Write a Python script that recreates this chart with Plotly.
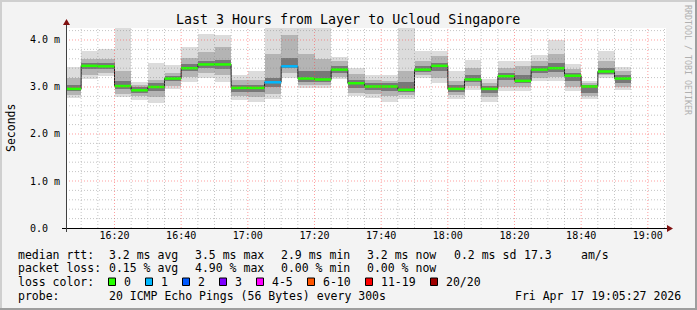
import plotly.graph_objects as go
import pandas as pd

# ---------------- data ----------------
day = "2026-04-17"
range_start = "2026-04-17 16:05:27"
range_end = "2026-04-17 19:05:27"
bin_starts = pd.date_range("2026-04-17 16:05", periods=34, freq="5min")

median_ms = [2.96, 3.45, 3.44, 3.02, 2.93, 3.00, 3.18, 3.40, 3.48, 3.48,
             2.98, 2.98, 3.10, 3.44, 3.18, 3.16, 3.37, 3.08, 3.01, 3.01,
             2.94, 3.37, 3.45, 2.96, 3.16, 2.96, 3.23, 3.13, 3.37, 3.40,
             3.24, 3.01, 3.33, 3.18]
smoke_min = [2.77, 3.17, 3.23, 2.78, 2.73, 2.67, 2.96, 3.11, 3.19, 3.11,
             2.73, 2.69, 2.75, 3.19, 2.98, 2.98, 3.16, 2.80, 2.77, 2.69,
             2.75, 3.20, 3.08, 2.75, 2.94, 2.68, 2.91, 2.91, 3.12, 3.12,
             2.91, 2.75, 3.19, 2.94]
smoke_max = [3.42, 3.77, 3.81, 4.30, 3.11, 3.50, 3.47, 3.85, 4.13, 4.11,
             3.26, 3.33, 4.30, 4.30, 4.30, 4.30, 3.63, 3.40, 3.25, 3.25,
             4.30, 3.77, 3.76, 3.33, 3.58, 3.16, 3.56, 3.56, 3.69, 4.01,
             3.49, 3.12, 3.77, 3.42]
mid_lo = [2.84, 3.25, 3.30, 2.85, 2.80, 2.78, 3.02, 3.22, 3.30, 3.25,
          2.80, 2.78, 2.85, 3.30, 3.05, 3.05, 3.22, 2.88, 2.85, 2.80,
          2.82, 3.25, 3.20, 2.82, 3.02, 2.78, 3.00, 3.00, 3.20, 3.22,
          3.00, 2.80, 3.25, 3.00]
mid_hi = [3.20, 3.60, 3.60, 3.35, 3.05, 3.15, 3.30, 3.62, 3.75, 3.85,
          3.15, 3.15, 3.70, 4.10, 3.70, 3.60, 3.55, 3.28, 3.15, 3.12,
          3.35, 3.55, 3.65, 3.12, 3.40, 3.08, 3.40, 3.45, 3.55, 3.70,
          3.38, 3.08, 3.55, 3.35]
core_lo = [2.92, 3.38, 3.38, 2.95, 2.88, 2.92, 3.12, 3.33, 3.40, 3.38,
           2.90, 2.90, 3.00, 3.40, 3.10, 3.10, 3.30, 2.98, 2.93, 2.92,
           2.90, 3.32, 3.35, 2.90, 3.10, 2.88, 3.15, 3.08, 3.30, 3.32,
           3.12, 2.88, 3.28, 3.08]
core_hi = [3.04, 3.50, 3.50, 3.12, 3.00, 3.08, 3.24, 3.48, 3.55, 3.58,
           3.05, 3.05, 3.20, 3.62, 3.35, 3.35, 3.45, 3.15, 3.08, 3.08,
           3.10, 3.45, 3.52, 3.05, 3.25, 3.02, 3.30, 3.25, 3.45, 3.50,
           3.30, 3.05, 3.40, 3.25]
loss_level = [0, 0, 0, 0, 0, 0, 0, 0, 0, 0,
              0, 0, 1, 1, 0, 0, 0, 0, 0, 0,
              0, 0, 0, 0, 0, 0, 0, 0, 0, 0,
              0, 0, 0, 0]

loss_labels = ["0", "1", "2", "3", "4-5", "6-10", "11-19", "20/20"]
loss_colors = ["#26ff00", "#00b8ff", "#0059ff", "#7e00ff", "#ff00ff",
               "#ff5500", "#ff0000", "#a00000"]

x_tick_labels = ["16:20", "16:40", "17:00", "17:20", "17:40", "18:00",
                 "18:20", "18:40", "19:00"]
y_tick_vals = [0, 1, 2, 3, 4]
y_tick_labels = ["0.0\u00a0\u00a0", "1.0 m", "2.0 m", "3.0 m", "4.0 m"]

title_text = "Last 3 Hours from Layer to Ucloud Singapore"
y_title = "Seconds"
side_text = "RRDTOOL / TOBI OETIKER"
row_rtt = ["median rtt:", "3.2 ms avg", "3.5 ms max", "2.9 ms min",
           "3.2 ms now", "0.2 ms sd", "17.3", "am/s"]
row_loss = ["packet loss:", "0.15 % avg", "4.90 % max", "0.00 % min",
            "0.00 % now"]
row_color_label = "loss color:"
row_probe = ["probe:", "20 ICMP Echo Pings (56 Bytes) every 300s",
             "Fri Apr 17 19:05:27 2026"]

# ---------------- geometry ----------------
W, H = 697, 310
PL, PT, PW, PH = 66, 28, 600, 200
YMAX = 4.255
FONT = "DejaVu Sans Mono"


def px(x):
    return (x - PL) / PW


def py(y):
    return (PT + PH - y) / PH


step = pd.Timedelta(minutes=5)
centers = [t + step / 2 for t in bin_starts]
bw = 300000

fig = go.Figure()

for lo, hi, col in [(smoke_min, smoke_max, "#dcdcdc"),
                    (mid_lo, mid_hi, "#b4b4b4"),
                    (core_lo, core_hi, "#787878")]:
    fig.add_trace(go.Bar(
        x=centers, base=lo, y=[h - l for l, h in zip(lo, hi)],
        width=[bw] * len(centers), marker=dict(color=col, line=dict(width=0)),
        hoverinfo="skip", showlegend=False))

# dark step line of the median
xs = list(bin_starts) + [bin_starts[-1] + step]
ys = list(median_ms) + [median_ms[-1]]
fig.add_trace(go.Scatter(x=xs, y=ys, mode="lines", line=dict(color="#202020", width=1, shape="hv"),
                         hoverinfo="skip", showlegend=False))

# coloured median segments by loss level
for lvl, col in enumerate(loss_colors):
    sx, sy = [], []
    for t, m, l in zip(bin_starts, median_ms, loss_level):
        if l == lvl:
            sx += [t, t + step, None]
            sy += [m, m, None]
    if sx:
        fig.add_trace(go.Scatter(x=sx, y=sy, mode="lines", line=dict(color=col, width=2.5),
                                 hoverinfo="skip", showlegend=False))

shapes = []
# grid (drawn above the smoke)
minor_color = "rgba(140,140,140,0.5)"
major_color = "rgba(255,64,64,0.5)"
t = pd.Timestamp("2026-04-17 16:10")
while t <= pd.Timestamp(range_end):
    major = (t.minute % 20 == 0)
    shapes.append(dict(type="line", xref="x", yref="paper", x0=t, x1=t, y0=0, y1=1,
                       line=dict(color=major_color if major else minor_color, width=1,
                                 dash="1px,2px"), layer="above"))
    t += step
for k in range(1, 22):
    v = k * 0.2
    major = (k % 5 == 0)
    shapes.append(dict(type="line", xref="paper", yref="y", x0=0, x1=1, y0=v, y1=v,
                       line=dict(color=major_color if major else minor_color, width=1,
                                 dash="1px,2px"), layer="above"))

# axes and arrows
shapes.append(dict(type="line", xref="paper", yref="paper", x0=px(62), x1=px(668),
                   y0=py(228.5), y1=py(228.5), line=dict(color="#000000", width=1), layer="above"))
shapes.append(dict(type="line", xref="paper", yref="paper", x0=px(66.5), x1=px(66.5),
                   y0=py(232), y1=py(24), line=dict(color="#404040", width=1), layer="above"))
shapes.append(dict(type="path", xref="paper", yref="paper",
                   path=f"M {px(667)} {py(225)} L {px(673)} {py(228.5)} L {px(667)} {py(232)} Z",
                   fillcolor="#801010", line=dict(width=0), layer="above"))
shapes.append(dict(type="path", xref="paper", yref="paper",
                   path=f"M {px(63)} {py(25)} L {px(66.5)} {py(19)} L {px(70)} {py(25)} Z",
                   fillcolor="#801010", line=dict(width=0), layer="above"))

# outer 3D frame
shapes.append(dict(type="rect", xref="paper", yref="paper", x0=px(0), x1=px(W), y0=py(0), y1=py(2),
                   fillcolor="#cfcfcf", line=dict(width=0), layer="below"))
shapes.append(dict(type="rect", xref="paper", yref="paper", x0=px(0), x1=px(2), y0=py(0), y1=py(H),
                   fillcolor="#cfcfcf", line=dict(width=0), layer="below"))
shapes.append(dict(type="rect", xref="paper", yref="paper", x0=px(0), x1=px(W), y0=py(H - 2), y1=py(H),
                   fillcolor="#9e9e9e", line=dict(width=0), layer="below"))
shapes.append(dict(type="rect", xref="paper", yref="paper", x0=px(W - 2), x1=px(W), y0=py(0), y1=py(H),
                   fillcolor="#9e9e9e", line=dict(width=0), layer="below"))

annotations = []


def text(x, y, s, size=11.5, color="#000000", xanchor="left", angle=0):
    annotations.append(dict(x=px(x), y=py(y), xref="paper", yref="paper", text=s,
                            showarrow=False, xanchor=xanchor, yanchor="middle",
                            textangle=angle, font=dict(family=FONT, size=size, color=color)))


text(348, 19, title_text, size=13.3, xanchor="center")
text(11, 128, y_title, size=11.5, xanchor="center", angle=-90)
text(688, 60, side_text, size=8.3, color="#b0b0b0", xanchor="center", angle=90)

row_y = [254.7, 268.3, 282, 295.7]
col_x = [16, 107, 193, 279, 365, 452, 522, 579]
for s, x in zip(row_rtt, col_x):
    text(x, row_y[0], s)
for s, x in zip(row_loss, col_x):
    text(x, row_y[1], s)
text(16, row_y[2], row_color_label)
sw_x = [108, 145, 182, 219, 256, 307, 365, 430]
for s, c, x in zip(loss_labels, loss_colors, sw_x):
    shapes.append(dict(type="rect", xref="paper", yref="paper", x0=px(x + 0.5), x1=px(x + 7.5),
                       y0=py(row_y[2] - 4), y1=py(row_y[2] + 3.5), fillcolor=c,
                       line=dict(color="#000000", width=1), layer="above"))
    text(x + 14, row_y[2], s)
for s, x in zip(row_probe, [16, 107, 513]):
    text(x, row_y[3], s)

fig.update_layout(
    width=W, height=H, margin=dict(l=PL, r=W - PL - PW, t=PT, b=H - PT - PH, pad=0),
    paper_bgcolor="#f3f3f3", plot_bgcolor="#ffffff", barmode="overlay", bargap=0,
    showlegend=False, shapes=shapes, annotations=annotations,
    xaxis=dict(type="date", range=[range_start, range_end], showgrid=False, zeroline=False,
               showline=False, ticks="",
               tickvals=[f"{day} {s}" for s in x_tick_labels], ticktext=x_tick_labels,
               tickfont=dict(family=FONT, size=10, color="#000000")),
    yaxis=dict(range=[0, YMAX], showgrid=False, zeroline=False, showline=False, ticks="",
               tickvals=y_tick_vals, ticktext=y_tick_labels, ticklabelstandoff=5,
               tickfont=dict(family=FONT, size=10, color="#000000")),
)

fig.write_html("out.html", config={"displayModeBar": False})
